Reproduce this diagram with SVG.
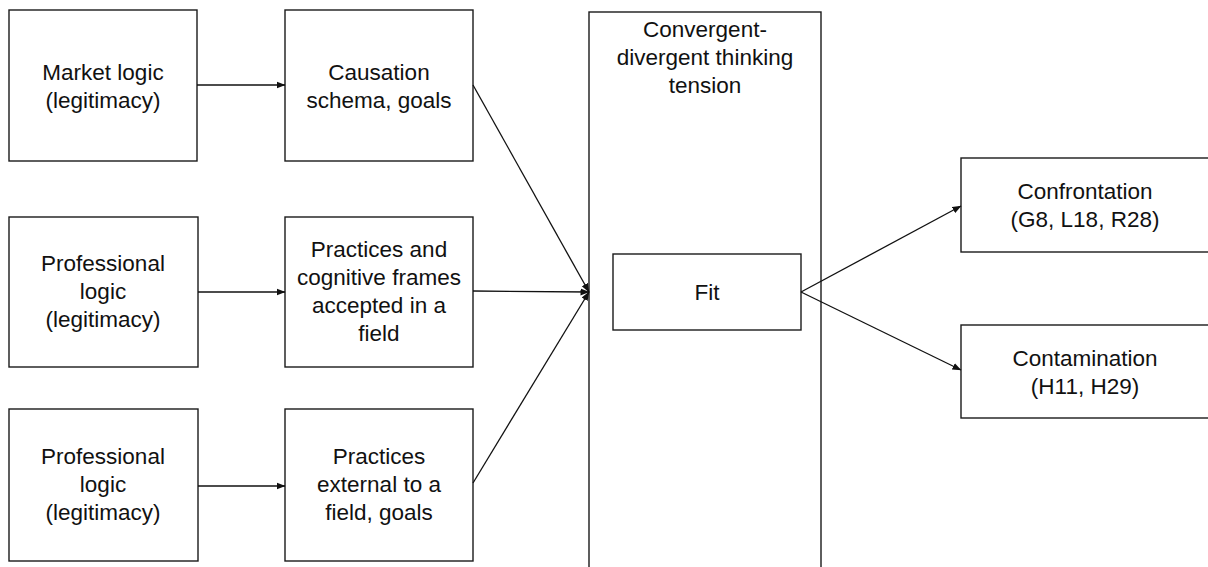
<svg xmlns="http://www.w3.org/2000/svg" width="1208" height="567" viewBox="0 0 1208 567">
<style>
.box{fill:#fff;stroke:#1a1a1a;stroke-width:1.4}
.t{font-family:"Liberation Sans",Arial,sans-serif;font-size:22.5px;fill:#111;text-anchor:middle}
.c{stroke:#111;stroke-width:1.3;fill:none;marker-end:url(#ah)}
</style>
<defs>
<marker id="ah" markerWidth="9" markerHeight="8" refX="8.5" refY="4" orient="auto" markerUnits="userSpaceOnUse">
<path d="M0,0.5 L9,4 L0,7.5 Z" fill="#111"/>
</marker>
</defs>
<rect width="1208" height="567" fill="#fff"/>
<g id="n-tension">
<rect class="box" x="589" y="12" width="232" height="570"/>
<text class="t" x="705" y="37">Convergent-</text>
<text class="t" x="705" y="65">divergent thinking</text>
<text class="t" x="705" y="93">tension</text>
</g>
<g id="n-market">
<rect class="box" x="9" y="10" width="188" height="151"/>
<text class="t" x="103" y="80">Market logic</text>
<text class="t" x="103" y="108">(legitimacy)</text>
</g>
<g id="n-causation">
<rect class="box" x="285" y="10" width="188" height="151"/>
<text class="t" x="379" y="80">Causation</text>
<text class="t" x="379" y="108">schema, goals</text>
</g>
<g id="n-prof1">
<rect class="box" x="9" y="217" width="189" height="150"/>
<text class="t" x="103" y="271">Professional</text>
<text class="t" x="103" y="299">logic</text>
<text class="t" x="103" y="327">(legitimacy)</text>
</g>
<g id="n-practices1">
<rect class="box" x="285" y="217" width="188" height="150"/>
<text class="t" x="379" y="257">Practices and</text>
<text class="t" x="379" y="285">cognitive frames</text>
<text class="t" x="379" y="313">accepted in a</text>
<text class="t" x="379" y="341">field</text>
</g>
<g id="n-prof2">
<rect class="box" x="9" y="409" width="189" height="152"/>
<text class="t" x="103" y="464">Professional</text>
<text class="t" x="103" y="492">logic</text>
<text class="t" x="103" y="520">(legitimacy)</text>
</g>
<g id="n-practices2">
<rect class="box" x="285" y="409" width="188" height="152"/>
<text class="t" x="379" y="464">Practices</text>
<text class="t" x="379" y="492">external to a</text>
<text class="t" x="379" y="520">field, goals</text>
</g>
<g id="n-fit">
<rect class="box" x="613" y="254" width="188" height="76"/>
<text class="t" x="707" y="300">Fit</text>
</g>
<g id="n-confrontation">
<rect class="box" x="961" y="158" width="260" height="94"/>
<text class="t" x="1085" y="199">Confrontation</text>
<text class="t" x="1085" y="227">(G8, L18, R28)</text>
</g>
<g id="n-contamination">
<rect class="box" x="961" y="325" width="260" height="93"/>
<text class="t" x="1085" y="366">Contamination</text>
<text class="t" x="1085" y="394">(H11, H29)</text>
</g>
<g id="connectors">
<line class="c" x1="197" y1="85" x2="285" y2="85"/>
<line class="c" x1="198" y1="292" x2="285" y2="292"/>
<line class="c" x1="198" y1="486" x2="285" y2="486"/>
<line class="c" x1="473" y1="85" x2="589" y2="292"/>
<line class="c" x1="473" y1="291" x2="589" y2="292"/>
<line class="c" x1="473" y1="483" x2="589" y2="292"/>
<line class="c" x1="801" y1="292" x2="961" y2="206"/>
<line class="c" x1="801" y1="292" x2="961" y2="370"/>
</g>
</svg>
